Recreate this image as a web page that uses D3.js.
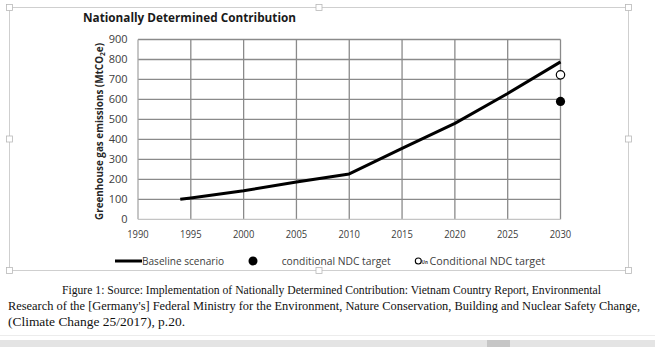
<!DOCTYPE html>
<html><head><meta charset="utf-8">
<script src="https://cdn.jsdelivr.net/npm/d3@7"></script>
<style>body{margin:0;background:#fff}svg{display:block}</style></head>
<body>
<script>
// ---- data ----
const title = "Nationally Determined Contribution";
const yTitle = "Greenhouse gas emissions (MtCO";
const years = [1994, 1995, 2000, 2005, 2010, 2015, 2020, 2025, 2030];
const baseline = [100, 107, 143, 187, 227, 355, 480, 630, 788];
const targetYear = 2030;
const conditionalNDC = 590;
const unconditionalNDC = 723;
const xTicks = [1990, 1995, 2000, 2005, 2010, 2015, 2020, 2025, 2030];
const yTicks = [0, 100, 200, 300, 400, 500, 600, 700, 800, 900];
const legendLabels = ["Baseline scenario", "conditional NDC target", "Conditional NDC target"];
const captionLines = [
  "Figure 1: Source: Implementation of Nationally Determined Contribution: Vietnam Country Report, Environmental",
  "Research of the [Germany's] Federal Ministry for the Environment, Nature Conservation, Building and Nuclear Safety Change,",
  "(Climate Change 25/2017), p.20."
];

const W = 655, H = 347;
const svg = d3.select("body").append("svg").attr("width", W).attr("height", H);
const font = "'Open Sans', sans-serif";
const txt = "#404040";

const x = d3.scaleLinear().domain([1990, 2030]).range([138, 560.5]);
const y = d3.scaleLinear().domain([0, 900]).range([219.3, 39.5]);

// frame (selection box)
const fr = {l: 9.5, t: 7.5, r: 628.5, b: 270.5};
svg.append("rect").attr("x", fr.l).attr("y", fr.t).attr("width", fr.r - fr.l).attr("height", fr.b - fr.t)
  .attr("fill", "none").attr("stroke", "#cfcfcf").attr("stroke-width", 1);
const hx = [fr.l, (fr.l + fr.r) / 2, fr.r], hy = [fr.t, 139, fr.b];
hx.forEach((px, i) => hy.forEach((py, j) => {
  if (i === 1 && j === 1) return;
  svg.append("rect").attr("x", px - 3).attr("y", py - 3).attr("width", 6).attr("height", 6)
    .attr("fill", "#fff").attr("stroke", "#b8b8b8").attr("stroke-width", 0.8);
}));

// gridlines
const g = svg.append("g");
g.selectAll(".hg").data(yTicks.filter(d => d > 0)).join("line")
  .attr("x1", x(1990)).attr("x2", x(2030)).attr("y1", d => y(d)).attr("y2", d => y(d))
  .attr("stroke", "#8a8a8a").attr("stroke-width", 1.3);
g.selectAll(".vg").data(xTicks.filter(d => d > 1990)).join("line")
  .attr("x1", d => x(d)).attr("x2", d => x(d)).attr("y1", y(0)).attr("y2", y(900))
  .attr("stroke", "#8a8a8a").attr("stroke-width", 1.3);
// axis lines
g.append("line").attr("x1", x(1990)).attr("x2", x(1990)).attr("y1", y(0)).attr("y2", y(900))
  .attr("stroke", "#a8a8a8").attr("stroke-width", 1.3);
g.append("line").attr("x1", x(1990)).attr("x2", x(2030)).attr("y1", y(0)).attr("y2", y(0))
  .attr("stroke", "#c4c4c4").attr("stroke-width", 1.3);

// tick labels
svg.selectAll(".yt").data(yTicks).join("text")
  .attr("x", 127.5).attr("y", d => y(d) + 3.9).attr("text-anchor", "end")
  .attr("font-family", font).attr("font-size", 11).attr("fill", txt).text(d => d);
svg.selectAll(".xt").data(xTicks).join("text")
  .attr("x", d => x(d)).attr("y", 238).attr("text-anchor", "middle")
  .attr("font-family", font).attr("font-size", 10.5).attr("fill", txt).text(d => d)
  .attr("textLength", 21.5).attr("lengthAdjust", "spacingAndGlyphs");

// title
svg.append("text").attr("x", 189.5).attr("y", 21.5).attr("text-anchor", "middle")
  .attr("font-family", font).attr("font-weight", "bold").attr("font-size", 13).attr("fill", "#1a1a1a")
  .attr("textLength", 213).attr("lengthAdjust", "spacingAndGlyphs").text(title);

// y axis title
const yt = svg.append("text").attr("transform", "translate(102.5,131.5) rotate(-90)")
  .attr("text-anchor", "middle").attr("font-family", font).attr("font-weight", "bold")
  .attr("font-size", 10.5).attr("fill", "#262626")
  .attr("textLength", 177).attr("lengthAdjust", "spacingAndGlyphs");
yt.append("tspan").text(yTitle);
yt.append("tspan").attr("font-size", 7).attr("dy", 2.5).text("2");
yt.append("tspan").attr("dy", -2.5).text("e)");

// baseline line
const pts = years.map((yr, i) => [yr, baseline[i]]);
svg.append("path").datum(pts)
  .attr("d", d3.line().x(d => x(d[0])).y(d => y(d[1])))
  .attr("fill", "none").attr("stroke", "#000").attr("stroke-width", 3).attr("stroke-linejoin", "round");

// targets
svg.append("circle").attr("cx", x(targetYear)).attr("cy", y(unconditionalNDC)).attr("r", 4.2)
  .attr("fill", "#fff").attr("stroke", "#000").attr("stroke-width", 1.2);
svg.append("circle").attr("cx", x(targetYear)).attr("cy", y(conditionalNDC)).attr("r", 4.6)
  .attr("fill", "#000");

// legend
const ly = 261;
svg.append("line").attr("x1", 115).attr("x2", 142).attr("y1", ly).attr("y2", ly)
  .attr("stroke", "#000").attr("stroke-width", 3);
svg.append("text").attr("x", 142).attr("y", ly + 3.8).attr("font-family", font).attr("font-size", 10.5)
  .attr("fill", txt).attr("textLength", 82).attr("lengthAdjust", "spacingAndGlyphs").text(legendLabels[0]);
svg.append("circle").attr("cx", 253).attr("cy", ly).attr("r", 4.5).attr("fill", "#000");
svg.append("text").attr("x", 281.7).attr("y", ly + 3.8).attr("font-family", font).attr("font-size", 10.5)
  .attr("fill", txt).attr("textLength", 109).attr("lengthAdjust", "spacingAndGlyphs").text(legendLabels[1]);
svg.append("circle").attr("cx", 418.3).attr("cy", ly).attr("r", 3).attr("fill", "#fff")
  .attr("stroke", "#000").attr("stroke-width", 1.1);
svg.append("text").attr("x", 421.6).attr("y", ly + 2.5).attr("font-family", font).attr("font-size", 6)
  .attr("font-weight", "bold").attr("fill", txt).attr("textLength", 6.3).attr("lengthAdjust", "spacingAndGlyphs").text("Un");
svg.append("text").attr("x", 429.5).attr("y", ly + 3.8).attr("font-family", font).attr("font-size", 10.5)
  .attr("fill", txt).attr("textLength", 115.5).attr("lengthAdjust", "spacingAndGlyphs").text(legendLabels[2]);

// caption
const capX = [62, 8, 8], capW = [539, 632, 177], capY = [293.5, 309.5, 325.5];
svg.selectAll(".cap").data(captionLines).join("text")
  .attr("x", (d, i) => capX[i]).attr("y", (d, i) => capY[i])
  .attr("font-family", "'Liberation Serif', 'Times New Roman', serif").attr("font-size", 12.3)
  .attr("fill", "#111").attr("textLength", (d, i) => capW[i]).attr("lengthAdjust", "spacingAndGlyphs")
  .text(d => d);

// bottom window chrome
svg.append("line").attr("x1", 0).attr("x2", W).attr("y1", 335.5).attr("y2", 335.5)
  .attr("stroke", "#ececec").attr("stroke-width", 1);
svg.append("rect").attr("x", 0).attr("y", 340).attr("width", W).attr("height", 7).attr("fill", "#e4e4e4");
svg.append("rect").attr("x", 487).attr("y", 340).attr("width", 23).attr("height", 7).attr("fill", "#c6c6c6");
</script>
</body></html>
